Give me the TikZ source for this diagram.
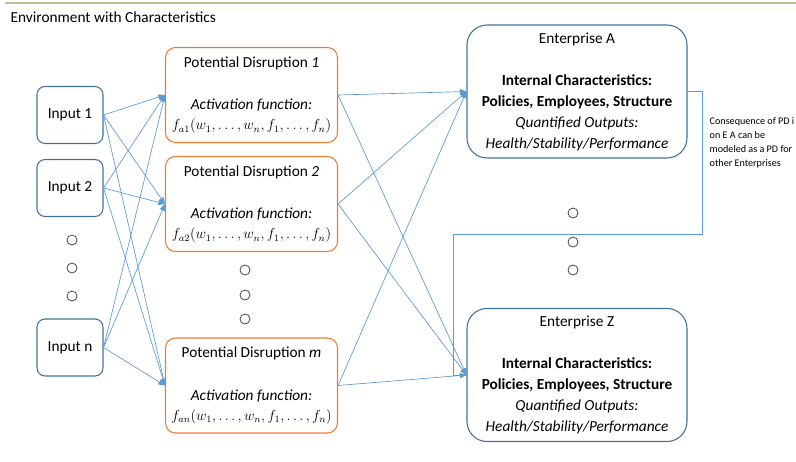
\documentclass[tikz,border=0pt]{standalone}
\usepackage{graphicx}
\usepackage{fontspec}
\setmainfont{Carlito}
\usetikzlibrary{shapes}
\usetikzlibrary{positioning}
\usetikzlibrary{arrows.meta}
\definecolor{inblue}{RGB}{65,113,156}
\definecolor{pdorange}{RGB}{237,125,49}
\definecolor{lnblue}{RGB}{91,155,213}
\definecolor{tanline}{RGB}{196,189,151}
\definecolor{dotgray}{RGB}{70,70,70}
\newcommand{\actfn}[1]{\scalebox{0.91}{$f_{#1}(w_1,\ldots,w_n,f_1,\ldots,f_n)$}}
\tikzset{
    inbox/.style = {rectangle, rounded corners=6pt, draw=inblue, line width=0.8pt, align=center, minimum width=49.5pt, minimum height=42.75pt, inner sep=0pt, font=\fontsize{11.5}{15}\selectfont},
    pdbox/.style = {rectangle, rounded corners=7.5pt, draw=pdorange, line width=0.8pt, align=center, minimum width=129pt, minimum height=71.25pt, inner sep=0pt, font=\fontsize{11.5}{16}\selectfont},
    entbox/.style = {rectangle, rounded corners=15pt, draw=inblue, line width=0.8pt, align=center, minimum width=165pt, minimum height=99.75pt, inner sep=0pt, font=\fontsize{11.5}{15.75}\selectfont},
    ellip/.style = {circle, draw=dotgray, line width=0.6pt, minimum size=7.5pt, inner sep=0pt},
    edgen/.style = {-{Triangle[length=5pt,width=4pt]}, line width=0.5pt, lnblue},
    edgef/.style = {line width=0.5pt, lnblue}, % feedback
    notetext/.style = {align=left, anchor=west, font=\fontsize{7.6}{10.5}\selectfont}
}
\begin{document}
\begin{tikzpicture}[x=0.75pt, y=-0.75pt]
\useasboundingbox (0,0) rectangle (796,461);
\draw[tanline, line width=1.2pt] (5,3) -- (796,3);
\node[anchor=west, font=\fontsize{11.5}{14}\selectfont] at (6, 17) (title) {Environment with Characteristics};

\node[inbox] at (70, 115.0) (in1) {Input 1};
\node[inbox] at (70, 188.0) (in2) {Input 2};
\node[inbox] at (70, 347.5) (inn) {Input n};
\node[ellip] at (72, 240) (io1) {};
\node[ellip] at (72, 268) (io2) {};
\node[ellip] at (72, 296) (io3) {};

\node[pdbox] at (251.5,  95.0) (pd1) {Potential Disruption \textit{1}\\[16pt] \textit{Activation function:}\\[-1pt] \actfn{a1}};
\node[pdbox] at (251.5, 204.0) (pd2) {Potential Disruption \textit{2}\\[16pt] \textit{Activation function:}\\[-1pt] \actfn{a2}};
\node[pdbox] at (251.5, 385.5) (pdm) {Potential Disruption \textit{m}\\[16pt] \textit{Activation function:}\\[-1pt] \actfn{an}};
\node[ellip] at (245, 270) (po1) {};
\node[ellip] at (245, 295) (po2) {};
\node[ellip] at (245, 319) (po3) {};

\node[entbox] at (577,  91.5) (entA) {Enterprise A\\[15.75pt] \textbf{Internal Characteristics:}\\ \textbf{Policies, Employees, Structure}\\ \textit{Quantified Outputs:}\\ \textit{Health/Stability/Performance}};
\node[entbox] at (577, 375.0) (entZ) {Enterprise Z\\[15.75pt] \textbf{Internal Characteristics:}\\ \textbf{Policies, Employees, Structure}\\ \textit{Quantified Outputs:}\\ \textit{Health/Stability/Performance}};
\node[ellip] at (573, 213) (eo1) {};
\node[ellip] at (573, 242) (eo2) {};
\node[ellip] at (573, 270) (eo3) {};

\node[notetext] at (705, 143) (note) {Consequence of PD i\\ on E A can be\\ modeled as a PD for\\ other Enterprises};
%
\draw[edgen] (in1.east) -- (pd1.west);
\draw[edgen] (in1.east) -- (pd2.west);
\draw[edgen] (in1.east) -- (pdm.west);
\draw[edgen] (in2.east) -- (pd1.west);
\draw[edgen] (in2.east) -- (pd2.west);
\draw[edgen] (in2.east) -- (pdm.west);
\draw[edgen] (inn.east) -- (pd1.west);
\draw[edgen] (inn.east) -- (pd2.west);
\draw[edgen] (inn.east) -- (pdm.west);
%
\draw[edgen] (pd1.east) -- (entA.west);
\draw[edgen] (pd1.east) -- (entZ.west);
\draw[edgen] (pd2.east) -- (entA.west);
\draw[edgen] (pd2.east) -- (entZ.west);
\draw[edgen] (pdm.east) -- (entA.west);
\draw[edgen] (pdm.east) -- (entZ.west);
%
\coordinate (fbr) at (702, 234);
\coordinate (fbl) at (453, 234);
\draw[edgef] (entA.east) -| (fbr) -- (fbl) |- (entZ.west);
\end{tikzpicture}
\end{document}
